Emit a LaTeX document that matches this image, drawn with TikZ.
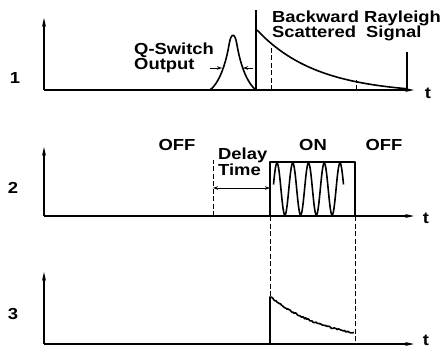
\documentclass[tikz,border=0pt]{standalone}
\usepackage{fontspec}
\setmainfont{Liberation Sans}[FakeStretch=1.15]
\usetikzlibrary{arrows.meta}

\begin{document}
\begin{tikzpicture}[
  x=1pt, y=-1pt,
  axis/.style={-{Stealth[length=9pt, width=4pt]}, line width=1.1pt},
  trace/.style={line width=1.6pt, line join=round},
  guide/.style={dash pattern=on 5pt off 2.5pt, line width=1pt},
  pointer/.style={-{Stealth[length=5pt, width=3.5pt]}, line width=0.9pt},
  spanarrow/.style={{Stealth[length=5pt, width=3.5pt]}-{Stealth[length=5pt, width=3.5pt]}, line width=0.9pt},
  lbl/.style={font=\bfseries\fontsize{16}{15}\selectfont, inner sep=0pt, align=left}
]
\useasboundingbox (0,0) rectangle (443,348);
\pgfmathsetseed{7}

% panel 1
\coordinate (o1) at (44,90);
\draw[axis] (o1) -- (44,18);
\draw[axis] (o1) -- (414,90);
\node[lbl] (n1) at (15,78) {1};
\node[lbl] (t1) at (428,93) {t};
\draw[trace] (210,90) .. controls (218,84) and (225,68) .. (229,45)
  .. controls (231,32) and (235,32) .. (237,45)
  .. controls (241,68) and (248,84) .. (256,90);
\draw[trace] (256,90) -- (256,10);
\draw[trace] plot[domain=257:407, samples=60] (\x, {90 - 64*exp(-(\x-257)/60) + 4}) -- (407,90);
\draw[trace] (407,90) -- (407,52);
\draw[guide] (271,90) -- (271,47);
\draw[guide] (356,90) -- (356,80);
\coordinate (qa) at (210,68);
\coordinate (qb) at (253,68);
\draw[pointer] (qa) -- (222,68);
\draw[pointer] (qb) -- (243,68);
\node[lbl, anchor=north west] (qsw) at (134,42.6) {Q-Switch\\Output};
\node[lbl, anchor=north west] (brs) at (272,10.6) {Backward Rayleigh\\Scattered\hspace{5pt} Signal};

% panel 2
\coordinate (o2) at (44,216);
\draw[axis] (o2) -- (44,147);
\draw[axis] (o2) -- (414,216);
\node[lbl] (n2) at (13,187.5) {2};
\node[lbl] (t2) at (426,218) {t};
\node[lbl, anchor=base] (off1) at (177,150) {OFF};
\node[lbl, anchor=base] (on) at (313,150.7) {ON};
\node[lbl, anchor=base] (off2) at (384,150.7) {OFF};
\node[lbl, anchor=north west, font=\bfseries\fontsize{16}{16.4}\selectfont] (dly) at (218,147.6) {Delay\\Time};
\coordinate (d0) at (213,188);
\coordinate (d1) at (270,188);
\draw[guide] (213,216) -- (213,160);
\draw[spanarrow] (d0) -- (d1);
\draw[trace] (270,216) rectangle (355,162);
\draw[trace] plot[domain=273.5:343.5, samples=140, smooth] (\x, {189 - 26*cos(22.857*(\x-277))});

% panel 3
\coordinate (o3) at (44,344);
\draw[axis] (o3) -- (44,272);
\draw[axis] (o3) -- (414,344);
\node[lbl] (n3) at (13,313.5) {3};
\node[lbl] (t3) at (426,340) {t};
\draw[trace] (270,344) -- (270,297)
  -- plot[domain=271:354, samples=80] (\x, {344 - 46*exp(-(\x-271)/55) - 1 + 0.7*rand});
\draw[guide] (270,216) -- (270,297);
\draw[guide] (355,216) -- (355,344);
\end{tikzpicture}
\end{document}
